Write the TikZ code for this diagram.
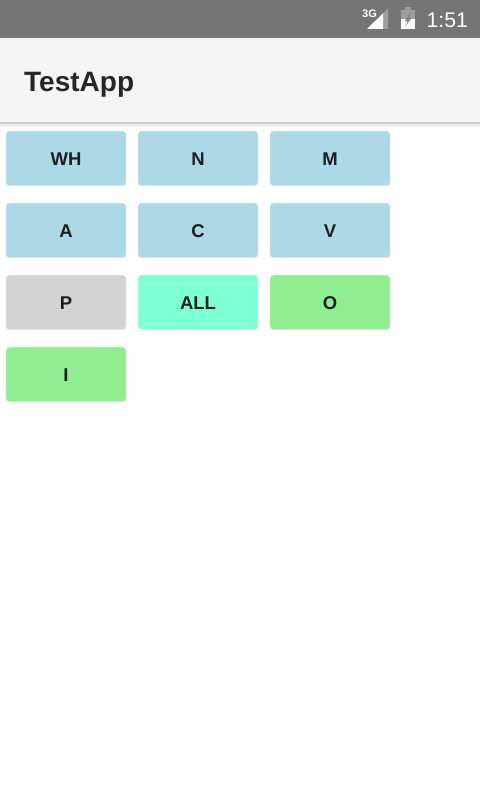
\documentclass[tikz,border=0pt]{standalone}
\usepackage{fontspec}
\setmainfont{Liberation Sans}
\newfontfamily\medfont{Liberation Sans Bold}
\newfontfamily\btnfont{Liberation Sans Bold}
\definecolor{bar}{HTML}{757575}
\definecolor{app}{HTML}{F5F5F5}
\definecolor{bluebtn}{HTML}{ADD8E6}
\definecolor{greybtn}{HTML}{D3D3D3}
\definecolor{aquabtn}{HTML}{7FFFD4}
\definecolor{greenbtn}{HTML}{90EE90}
\definecolor{ink}{HTML}{1C1F20}
\tikzset{
  x=1pt,y=-1pt,
  btn/.style={rounded corners=3.5pt,minimum width=120pt,minimum height=54.6pt,inner sep=0pt,
    text=ink,font=\btnfont\fontsize{18.5}{20}\selectfont,text height=14.6pt,text depth=0pt,
    draw=black!8,draw opacity=0.6,line width=0.7pt},
  statustext/.style={text=white,inner sep=0pt},
}
\begin{document}
\begin{tikzpicture}
\useasboundingbox (0,0) rectangle (480,800);
\fill[white] (0,0) rectangle (480,800);
% app bar shadow
\foreach \i/\o in {0/0.22,1/0.16,2/0.11,3/0.07,4/0.04,5/0.02}{
  \fill[black,opacity=\o] (0,122+\i) rectangle (480,123+\i);
}
\fill[app] (0,38) rectangle (480,122);
\fill[bar] (0,0) rectangle (480,38);
\node[anchor=base west,inner sep=0pt,text=black!85,font=\medfont\fontsize{28}{30}\selectfont] (title) at (24,91) {TestApp};
% buttons
\node[btn,fill=bluebtn] (wh) at (66,158.4) {WH};
\node[btn,fill=bluebtn] (n) at (198,158.4) {N};
\node[btn,fill=bluebtn] (m) at (330,158.4) {M};
\node[btn,fill=bluebtn] (a) at (66,230.4) {A};
\node[btn,fill=bluebtn] (c) at (198,230.4) {C};
\node[btn,fill=bluebtn] (v) at (330,230.4) {V};
\node[btn,fill=greybtn] (p) at (66,302.4) {P};
\node[btn,fill=aquabtn] (all) at (198,302.4) {ALL};
\node[btn,fill=greenbtn] (o) at (330,302.4) {O};
\node[btn,fill=greenbtn] (i) at (66,374.4) {I};
% status icons
\node[statustext,anchor=base west,font=\btnfont\fontsize{11}{11}\selectfont] (net) at (362,18) {3G};
\fill[white,opacity=0.3] (388,8.5) -- (388,29) -- (367,29) -- cycle;
\fill[white] (383,13.5) -- (383,29) -- (367,29) -- cycle;
\fill[white,opacity=0.3] (401,10.5) rectangle (415,29);
\fill[white,opacity=0.3] (405,7.5) rectangle (411,10.5);
\fill[white] (401,19.5) rectangle (415,29);
\fill[bar,opacity=0.85] (411,12) -- (404.5,21.5) -- (407.5,21.5) -- (405,27) -- (411.5,18) -- (408.5,18) -- cycle;
\node[statustext,anchor=base west,font=\fontsize{21.2}{24}\selectfont] (clock) at (426.5,27.5) {1:51};
\end{tikzpicture}
\end{document}
